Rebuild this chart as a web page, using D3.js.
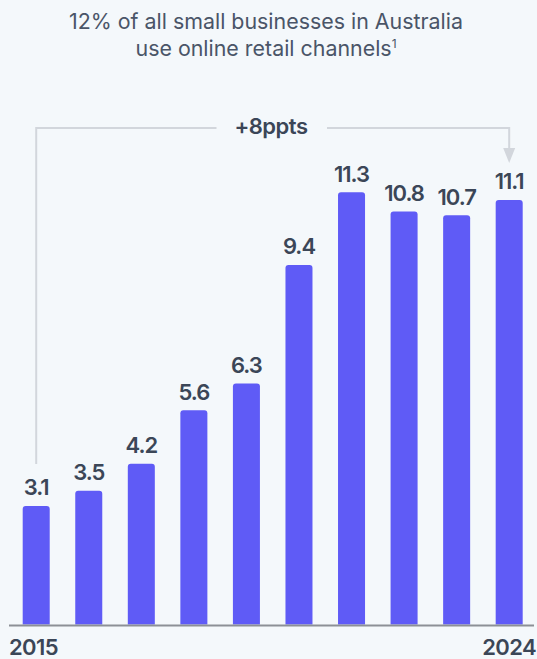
<!DOCTYPE html>
<html>
<head>
<meta charset="utf-8">
<script src="https://cdn.jsdelivr.net/npm/d3@7"></script>
<style>
  html, body { margin: 0; padding: 0; background: #f4f8fb; }
  svg { display: block; }
  text { font-family: Inter, "Noto Sans", sans-serif; }
</style>
</head>
<body>
<script>
// Share of small businesses using online retail channels, by year
const years = ["2015", "2016", "2017", "2018", "2019", "2020", "2021", "2022", "2023", "2024"];
const shares = [3.1, 3.5, 4.2, 5.6, 6.3, 9.4, 11.3, 10.8, 10.7, 11.1];
const axisYearLabels = ["2015", "2024"];
const titleLines = ["12% of all small businesses in Australia", "use online retail channels"];
const changeLabel = "+8ppts";

const W = 537, H = 659;
const svg = d3.select("body").append("svg").attr("width", W).attr("height", H);

const x = d3.scaleBand().domain(years).range([22.7, 522.7]).paddingInner(0.486).paddingOuter(0);
const y = d3.scaleLinear().domain([0, 11.3]).range([624.5, 192.3]);

// Title
const title = svg.append("g").attr("fill", "#4a5568").attr("font-size", 21.4).attr("text-anchor", "middle");
title.append("text").attr("x", 266).attr("y", 29).text(titleLines[0]);
const t2 = title.append("text").attr("x", 266).attr("y", 55.5);
t2.append("tspan").text(titleLines[1]);
t2.append("tspan").attr("font-size", 12).attr("dy", -8).text("1");

// Bars with rounded tops
const r = 3;
const bw = x.bandwidth();
svg.append("g").selectAll("path").data(years).join("path")
  .attr("fill", "#5f5bf6")
  .attr("d", (d, i) => {
    const x0 = x(d), x1 = x0 + bw, yt = y(shares[i]), yb = y(0);
    return `M${x0},${yb}V${yt + r}Q${x0},${yt} ${x0 + r},${yt}H${x1 - r}Q${x1},${yt} ${x1},${yt + r}V${yb}Z`;
  });

// Value labels
const labelSize = 22;
svg.append("g").attr("fill", "#3b4657").attr("font-size", labelSize).attr("font-weight", 600)
  .attr("text-anchor", "middle").attr("letter-spacing", -1)
  .selectAll("text").data(years).join("text")
  .attr("x", d => x(d) + bw / 2)
  .attr("y", (d, i) => y(shares[i]) - 10.5)
  .text((d, i) => d3.format(".1f")(shares[i]));

// Baseline
svg.append("line").attr("x1", 9).attr("x2", 534).attr("y1", y(0) + 1).attr("y2", y(0) + 1)
  .attr("stroke", "#8c9096").attr("stroke-width", 2);

// Year labels at the ends of the axis
const yl = svg.append("g").attr("fill", "#3b4657").attr("font-size", labelSize).attr("font-weight", 600).attr("letter-spacing", -0.6);
yl.append("text").attr("x", 9).attr("y", 655).attr("text-anchor", "start").text(axisYearLabels[0]);
yl.append("text").attr("x", 536).attr("y", 655).attr("text-anchor", "end").text(axisYearLabels[1]);

// Change bracket from first to last year
const first = years[0], last = years[years.length - 1];
const cx0 = x(first) + bw / 2, cx1 = x(last) + bw / 2;
const by = 128;
const ly = y(shares[0]) - 42;
const bracket = svg.append("g").attr("stroke", "#d2d6dc").attr("stroke-width", 2).attr("fill", "none");
bracket.append("path").attr("d", `M${cx0},${ly}V${by}H216.5`);
bracket.append("path").attr("d", `M327,${by}H${cx1}V149`);
svg.append("path").attr("fill", "#d2d6dc")
  .attr("d", `M${cx1 - 6},148L${cx1 + 6},148L${cx1},163Z`);
svg.append("text").attr("x", 271).attr("y", 133.5).attr("text-anchor", "middle")
  .attr("fill", "#3b4657").attr("font-size", labelSize).attr("font-weight", 600).attr("letter-spacing", -0.5)
  .text(changeLabel);
</script>
</body>
</html>
